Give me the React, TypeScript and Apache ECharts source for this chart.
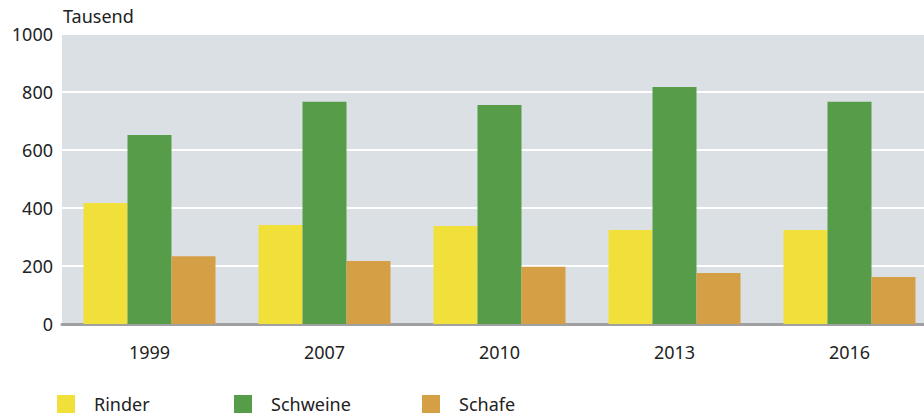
import React, { useEffect, useRef } from "react";
import * as echarts from "echarts";

const categories = ["1999", "2007", "2010", "2013", "2016"];
const rinder = [417, 341, 338, 324, 324];
const schweine = [652, 766, 755, 817, 766];
const schafe = [234, 217, 197, 176, 162];
const seriesNames = ["Rinder", "Schweine", "Schafe"];
const colors = ["#f2e03a", "#579c48", "#d5a045"];
const FONT = "Noto Sans";

export default function App() {
  const ref = useRef<HTMLDivElement>(null);
  useEffect(() => {
    if (!ref.current) return;
    const chart = echarts.init(ref.current, null, { renderer: "svg" });
    const data = [rinder, schweine, schafe];
    const legendLefts = [57, 234, 422];
    chart.setOption({
      animation: false,
      textStyle: { fontFamily: FONT },
      grid: {
        left: 62,
        right: 0,
        top: 34,
        height: 290,
        show: true,
        backgroundColor: "#dbe0e4",
        borderWidth: 0,
      },
      legend: seriesNames.map((n, i) => ({
        data: [n],
        left: legendLefts[i],
        top: 395,
        padding: 0,
        itemWidth: 18,
        itemHeight: 18,
        icon: "rect",
        selectedMode: false,
        textStyle: {
          fontFamily: FONT,
          fontSize: 18,
          lineHeight: 18,
          color: "#222",
          padding: [0, 0, 0, 14],
        },
      })),
      graphic: [
        {
          type: "text",
          left: 63,
          top: 7,
          style: { text: "Tausend", font: `18px "${FONT}"`, fill: "#222" },
        },
      ],
      xAxis: {
        type: "category",
        data: categories,
        axisLine: { show: true, lineStyle: { color: "#a0a0a0", width: 3 } },
        axisTick: { show: false },
        axisLabel: { color: "#222", fontSize: 18, margin: 19, fontFamily: FONT },
      },
      yAxis: {
        type: "value",
        min: 0,
        max: 1000,
        interval: 200,
        axisLine: { show: false },
        axisTick: { show: false },
        axisLabel: {
          color: "#222",
          fontSize: 18,
          margin: 9,
          fontFamily: FONT,
          formatter: (v: number) => String(v),
        },
        splitLine: { show: true, lineStyle: { color: "#ffffff", width: 2 } },
      },
      series: seriesNames.map((n, i) => ({
        name: n,
        type: "bar",
        data: data[i],
        barWidth: 44,
        barGap: "0%",
        itemStyle: { color: colors[i] },
      })),
    });
    return () => chart.dispose();
  }, []);
  return (
    <div
      style={{
        position: "absolute",
        left: 0,
        top: 0,
        width: 924,
        height: 414,
        overflow: "hidden",
      }}
    >
      <div ref={ref} style={{ width: 937, height: 414 }} />
    </div>
  );
}
